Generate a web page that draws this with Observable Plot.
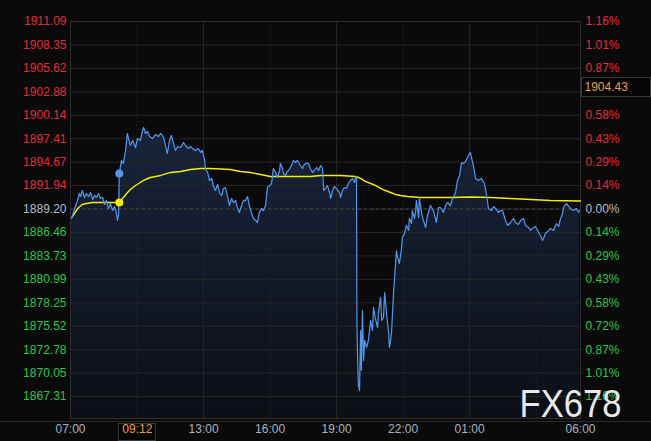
<!DOCTYPE html>
<html><head><meta charset="utf-8">
<script src="https://cdn.jsdelivr.net/npm/d3@7"></script>
<script src="https://cdn.jsdelivr.net/npm/@observablehq/plot@0.6"></script>
<style>
html,body{margin:0;padding:0;background:#0a0a0a;}
#chart{width:651px;height:441px;overflow:hidden;}
</style></head><body><div id="chart"></div>
<script>
// ---- data ----
const sessionStart = "07:00";
const sessionEnd = "06:00";
const baseClose = 1889.20;
const yBottom = 1864.75;
// minutes after 07:00
const priceMinutes = [
3,8,14,19,24,27,32,38,43,49,
54,60,65,70,76,81,87,92,97,103,
108,114,119,124,127,130,132,138,143,149,
154,157,162,168,176,181,189,195,198,203,
208,214,222,230,238,244,252,257,262,268,
273,279,284,290,298,306,311,319,325,333,
338,346,352,357,363,365,371,376,382,387,
392,398,403,409,414,419,425,430,436,441,
447,452,457,463,468,474,479,484,490,495,
501,506,511,517,522,528,533,539,544,549,
555,560,566,568,574,576,582,585,590,595,
601,603,609,614,622,628,631,636,644,649,
655,660,666,671,677,682,685,690,695,701,
704,709,714,720,723,728,731,736,741,747,
752,758,763,769,771,774,775,777,779,782,
785,787,790,793,796,801,806,812,817,820,
825,831,833,839,842,847,850,855,861,863,
866,869,874,877,882,885,890,893,896,898,
904,909,915,917,923,925,931,934,936,942,
944,950,955,961,966,974,982,990,996,1001,
1009,1015,1020,1028,1034,1042,1047,1053,1058,1063,
1069,1074,1080,1082,1085,1091,1096,1104,1112,1120,
1126,1131,1139,1145,1150,1158,1164,1169,1177,1183,
1191,1199,1204,1212,1218,1226,1231,1239,1245,1253,
1258,1264,1272,1277,1280,1285,1294,1299,1307,1315,
1321,1326,1331,1334,1342,1348,1353,1361,1369,1375,
1377];
const priceValues = [
1888.10,1888.80,1889.61,1890.20,1891.01,1890.66,1891.36,1890.55,1891.01,1890.66,
1891.13,1890.31,1890.78,1890.55,1891.01,1890.43,1890.55,1889.73,1890.20,1889.26,
1889.85,1889.03,1889.50,1888.80,1887.86,1888.56,1893.35,1894.87,1894.52,1896.03,
1898.02,1897.43,1896.62,1897.20,1896.38,1897.43,1897.20,1898.37,1898.72,1898.02,
1898.25,1897.67,1897.43,1897.90,1897.67,1898.02,1897.55,1896.62,1895.68,1897.20,
1897.78,1896.85,1896.03,1896.50,1896.38,1896.97,1896.62,1896.27,1896.50,1896.15,
1896.03,1896.27,1895.80,1896.03,1894.87,1893.93,1893.47,1892.53,1892.77,1891.83,
1891.36,1892.07,1891.13,1890.78,1891.60,1891.71,1890.66,1889.61,1890.43,1889.96,
1890.20,1889.26,1888.80,1889.61,1890.20,1890.20,1890.66,1889.61,1888.68,1888.10,
1887.86,1887.63,1888.80,1889.26,1889.03,1889.61,1891.71,1891.95,1892.18,1893.93,
1893.47,1892.88,1893.70,1894.52,1893.93,1893.35,1893.12,1893.47,1893.70,1894.05,
1894.52,1894.87,1894.63,1894.87,1894.28,1893.93,1894.28,1894.52,1894.52,1893.93,
1893.47,1893.70,1894.05,1893.70,1894.28,1893.93,1891.36,1891.60,1891.95,1891.13,
1890.43,1891.36,1891.83,1891.60,1891.36,1891.13,1890.55,1891.36,1891.71,1891.60,
1892.18,1892.53,1892.77,1892.30,1893.00,1892.77,1875.84,1871.52,1868.60,1868.02,
1875.02,1870.36,1877.36,1871.52,1873.86,1873.04,1873.86,1876.19,1875.02,1877.71,
1876.42,1875.37,1877.01,1878.88,1876.19,1876.54,1879.46,1877.01,1874.67,1873.04,
1873.86,1875.02,1879.34,1881.21,1884.36,1883.54,1882.84,1883.78,1884.71,1885.88,
1886.35,1887.28,1886.70,1888.10,1887.51,1889.03,1888.10,1889.03,1890.20,1888.21,
1890.55,1888.68,1887.86,1887.05,1888.45,1889.61,1889.03,1887.63,1889.38,1889.38,
1888.80,1889.61,1889.96,1889.61,1890.43,1891.13,1892.53,1893.12,1894.63,1894.52,
1894.75,1895.22,1895.68,1895.80,1895.22,1894.05,1892.77,1892.53,1892.77,1892.18,
1890.78,1889.26,1889.03,1889.50,1889.26,1888.80,1889.03,1889.03,1887.86,1887.28,
1887.63,1888.10,1887.63,1887.40,1887.86,1888.10,1887.28,1887.05,1886.70,1887.05,
1887.16,1886.70,1886.11,1885.53,1885.76,1886.35,1886.70,1886.93,1886.70,1887.51,
1887.16,1888.10,1888.56,1889.38,1889.85,1889.50,1889.26,1889.03,1889.26,1888.80,
1889.03];
const avgMinutes = [5,14,22,32,43,60,81,108,132,141,152,162,176,189,203,216,230,244,271,298,
325,352,379,406,433,460,487,514,541,595,649,677,704,731,771,785,798,812,825,839,
852,866,879,893,912,947,1028,1082,1137,1191,1245,1299,1380];
const avgValues = [1888.33,1888.91,1889.38,1889.73,1889.85,1889.96,1889.96,1889.96,1889.96,1890.43,
1891.01,1891.48,1891.95,1892.30,1892.65,1892.88,1893.00,1893.12,1893.47,1893.58,
1893.82,1893.93,1893.93,1893.87,1893.82,1893.58,1893.47,1893.23,1893.00,1893.00,
1893.00,1893.12,1893.12,1893.12,1893.00,1892.77,1892.42,1892.18,1891.95,1891.60,
1891.36,1891.13,1890.90,1890.78,1890.66,1890.55,1890.55,1890.60,1890.55,1890.43,
1890.31,1890.20,1890.14];
const leftTicks = [1911.09,1908.35,1905.62,1902.88,1900.14,1897.41,1894.67,1891.94,1889.20,
1886.46,1883.73,1880.99,1878.25,1875.52,1872.78,1870.05,1867.31];
const rightTickLabels = ["1.16%","1.01%","0.87%","0.72%","0.58%","0.43%","0.29%","0.14%","0.00%",
"0.14%","0.29%","0.43%","0.58%","0.72%","0.87%","1.01%","1.16%"];
const xTickLabels = ["07:00","13:00","16:00","19:00","22:00","01:00","06:00"];
const solidGridTimes = ["13:00","19:00","01:00"];
const dottedGridTimes = ["10:00","16:00","22:00","04:00"];
const cursorTime = "09:12";
const cursorPrice = 1893.35;
const cursorAvg = 1889.96;
const priceTag = 1904.43;
const watermark = "FX678";

// ---- helpers ----
const W = 651, H = 441, ML = 70, MR = 71, MT = 21, MB = 23;
const T0 = Date.UTC(2024,0,1,7,0);
const fromMin = m => new Date(T0 + m*60000);
const fromHHMM = s => { const [h,m] = s.split(":").map(Number); let mins = (h-7)*60+m; if (mins < 0) mins += 1440; return fromMin(mins); };
const priceData = priceMinutes.map((m,i) => ({t: fromMin(m), v: priceValues[i]}));
const avgData = avgMinutes.map((m,i) => ({t: fromMin(m), v: avgValues[i]}));
const baseIdx = leftTicks.indexOf(baseClose);
const RED = "#e62a3c", GREEN = "#2cc64a", NEUTRAL = "#b3bcc8";
const tickColor = i => i < baseIdx ? RED : (i === baseIdx ? NEUTRAL : GREEN);
// the price tag box covers the right-axis label just below it
const rightData = rightTickLabels.map((l,i) => ({v: leftTicks[i], label: l, c: tickColor(i)}))
  .filter(d => !(d.v < priceTag && priceTag - d.v < 2.5));
const FONT = "Liberation Sans, Arial, sans-serif";

const gradient = () => {
  const defs = d3.create("svg:defs");
  const g = defs.append("linearGradient").attr("id","areaGrad").attr("x1",0).attr("y1",0).attr("x2",0).attr("y2",1);
  g.append("stop").attr("offset","0%").attr("stop-color","#18243a");
  g.append("stop").attr("offset","100%").attr("stop-color","#0c0f15");
  return defs.node();
};

const chart = Plot.plot({
  width: W, height: H,
  marginLeft: ML, marginRight: MR, marginTop: MT, marginBottom: MB,
  style: {background: "#0a0a0a", fontFamily: FONT, fontSize: "12px", overflow: "visible"},
  x: {type: "utc", domain: [fromHHMM(sessionStart), fromHHMM(sessionEnd)], axis: null},
  y: {domain: [yBottom, leftTicks[0]], axis: null},
  color: {type: "identity"},
  marks: [
    gradient,
    Plot.areaY(priceData, {x: "t", y1: yBottom, y2: "v", fill: "url(#areaGrad)"}),
    Plot.ruleY(leftTicks, {stroke: "#262626", strokeWidth: 1}),
    Plot.ruleX(solidGridTimes.map(fromHHMM), {stroke: "#262626"}),
    Plot.ruleX(dottedGridTimes.map(fromHHMM), {stroke: "#333", strokeDasharray: "1,3"}),
    Plot.ruleY([baseClose], {stroke: "#4a4a4a", strokeDasharray: "3,3"}),
    Plot.frame({stroke: "#2e2e2e"}),
    Plot.line(avgData, {x: "t", y: "v", stroke: "#f5f000", strokeWidth: 1.4}),
    Plot.line(priceData, {x: "t", y: "v", stroke: "#5297ee", strokeWidth: 1.2}),
    Plot.dot([cursorPrice], {x: () => fromHHMM(cursorTime), y: d => d, r: 4, fill: "#5297ee"}),
    Plot.dot([cursorAvg], {x: () => fromHHMM(cursorTime), y: d => d, r: 4, fill: "#f5f000"}),
    Plot.text(leftTicks, {y: d => d, text: d => d.toFixed(2), frameAnchor: "left", textAnchor: "end", dx: -4, fill: (d,i) => tickColor(i), fontSize: 12}),
    Plot.text(rightData, {y: "v", text: "label", frameAnchor: "right", textAnchor: "start", dx: 5, fill: "c", fontSize: 12}),
    Plot.text(xTickLabels, {x: fromHHMM, text: d => d, frameAnchor: "bottom", dy: 14, fill: "#a6b2c2", fontSize: 12}),
    Plot.text([cursorTime], {x: fromHHMM, text: d => d, frameAnchor: "bottom", textAnchor: "start", dx: 3, dy: 14, fill: "#f0a030", fontSize: 12}),
    Plot.text([priceTag], {y: d => d, text: d => d.toFixed(2), frameAnchor: "right", textAnchor: "start", dx: 4, dy: 9, fill: "#e8a040", fontSize: 12}),
    Plot.text([watermark], {frameAnchor: "bottom-right", textAnchor: "end", lineAnchor: "bottom", dx: 41, dy: -2, fill: "#e8e8e8", fontSize: 38})
  ]
});
document.getElementById("chart").appendChild(chart);

const svg = d3.select(chart);
const ctx = document.createElement("canvas").getContext("2d");
ctx.font = "12px " + FONT;
let sx = null, sy = null;
try { sx = chart.scale("x"); sy = chart.scale("y"); } catch (e) {}
const px = t => sx ? sx.apply(t) : ML + (t - fromHHMM(sessionStart)) / (fromHHMM(sessionEnd) - fromHHMM(sessionStart)) * (W - ML - MR);
const py = v => sy ? sy.apply(v) : MT + (leftTicks[0] - v) / (leftTicks[0] - yBottom) * (H - MT - MB);

// watermark: tall, narrow letters
svg.selectAll("text").filter(function() { return this.textContent === watermark; })
  .attr("textLength", 102).attr("lengthAdjust", "spacingAndGlyphs");

// boxes behind the crosshair labels (placed from the scales, sized from measured text)
function boxBefore(label, x, y, w, h) {
  const node = svg.selectAll("text").filter(function() { return this.textContent === label; }).node();
  if (!node) return;
  const g = node.parentNode;
  const r = document.createElementNS("http://www.w3.org/2000/svg", "rect");
  r.setAttribute("x", x); r.setAttribute("y", y);
  r.setAttribute("width", w); r.setAttribute("height", h);
  r.setAttribute("fill", "#050505"); r.setAttribute("stroke", "#3a3a3a");
  g.parentNode.insertBefore(r, g);
}
const cx = px(fromHHMM(cursorTime));
const wX = ctx.measureText(cursorTime).width;
boxBefore(cursorTime, cx - 0.5, H - MB + 5.5, wX + 7, 17);
const ty = py(priceTag);
boxBefore(priceTag.toFixed(2), W - MR + 1.5, ty - 0.5, MR - 2, 19);

// full-width axis line just below the plot frame
svg.append("line").attr("x1", 0).attr("x2", W).attr("y1", H - MB + 3.5).attr("y2", H - MB + 3.5).attr("stroke", "#2a2a2a");
</script></body></html>
